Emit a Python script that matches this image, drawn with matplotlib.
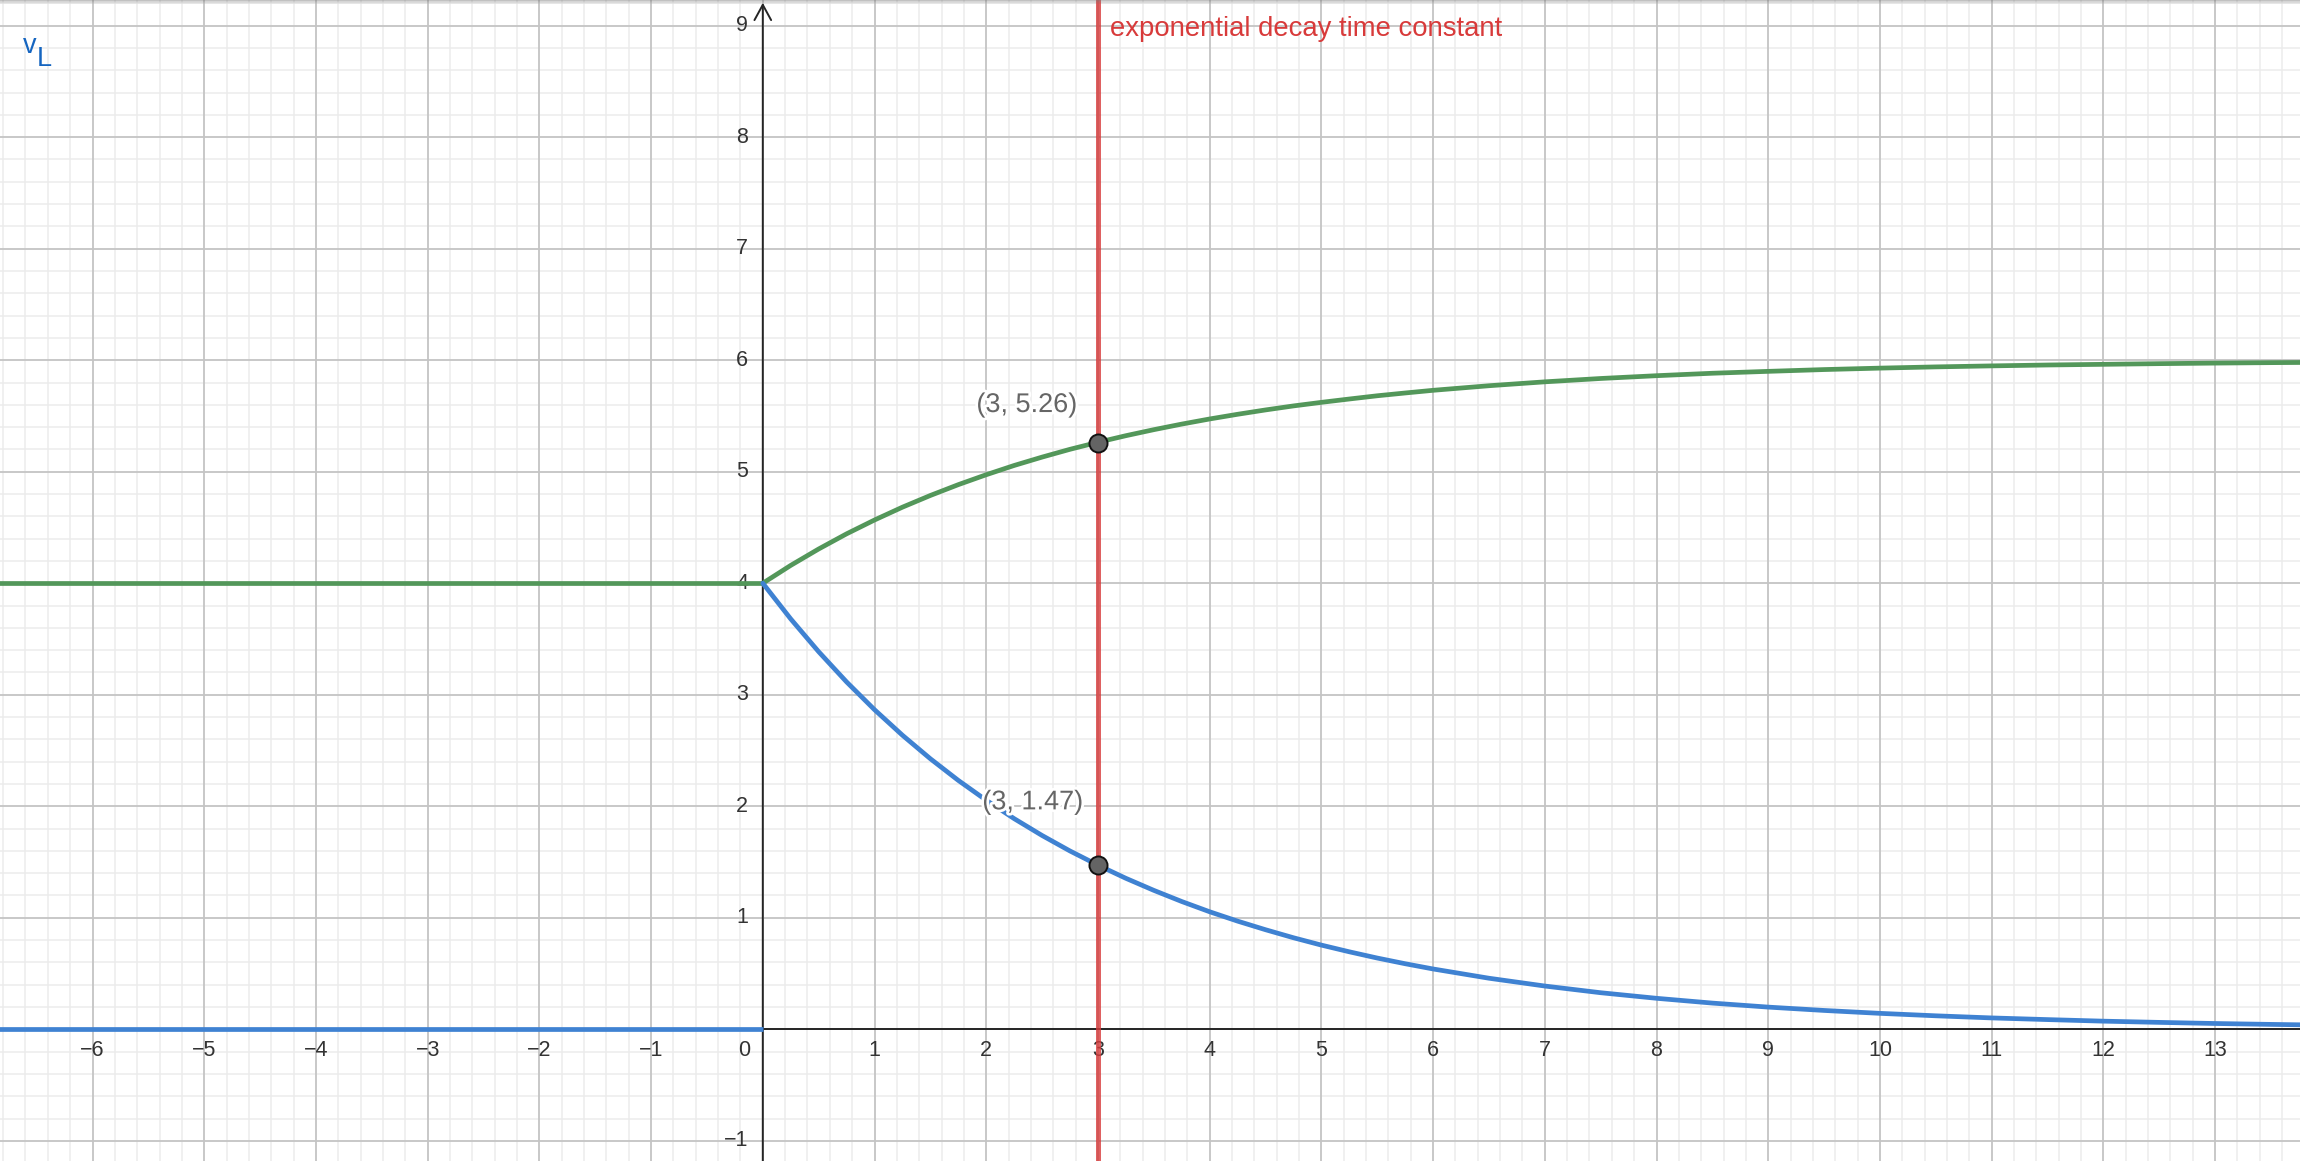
import numpy as np
import matplotlib.pyplot as plt
import matplotlib.patheffects as pe

plt.rcParams['font.family'] = ['Liberation Sans', 'DejaVu Sans']

# values: fine steps where the curves bend most
t_after = [0.0, 0.25, 0.5, 0.75, 1.0, 1.25, 1.5, 1.75, 2.0, 2.25, 2.5, 2.75, 3.0,
           3.25, 3.5, 3.75, 4.0, 4.25, 4.5, 4.75, 5.0, 5.25, 5.5, 5.75, 6.0,
           6.5, 7.0, 7.5, 8.0, 8.5, 9.0, 9.5, 10.0, 10.5, 11.0, 11.5, 12.0, 12.5, 13.0, 13.5, 14.0]
vL_after = [4.000, 3.680, 3.386, 3.115, 2.866, 2.637, 2.426, 2.232, 2.054, 1.889, 1.738, 1.599, 1.472,
            1.354, 1.246, 1.146, 1.054, 0.970, 0.893, 0.821, 0.755, 0.695, 0.639, 0.588, 0.541,
            0.458, 0.388, 0.328, 0.278, 0.235, 0.199, 0.169, 0.143, 0.121, 0.102, 0.087, 0.073,
            0.062, 0.052, 0.044, 0.037]
vG_after = [4.000, 4.160, 4.307, 4.443, 4.567, 4.682, 4.787, 4.884, 4.973, 5.056, 5.131, 5.201, 5.264,
            5.323, 5.377, 5.427, 5.473, 5.515, 5.554, 5.590, 5.622, 5.652, 5.681, 5.706, 5.730,
            5.771, 5.806, 5.836, 5.861, 5.883, 5.900, 5.916, 5.929, 5.940, 5.949, 5.957, 5.963,
            5.969, 5.974, 5.978, 5.981]
t_before = [-7, 0]
vL_before = [0, 0]
vG_before = [4, 4]

tau = 3
pts_x = [3, 3]
pts_y = [5.26, 1.47]
pts_lbl = ['(3, 5.26)', '(3, 1.47)']

xticks = [-6, -5, -4, -3, -2, -1, 1, 2, 3, 4, 5, 6, 7, 8, 9, 10, 11, 12, 13]
yticks = [-1, 1, 2, 3, 4, 5, 6, 7, 8, 9]

green = '#53975a'
blue = '#3f82d2'
red = '#d83a3a'

xmin, xmax = -6.828, 13.76
ymin, ymax = -1.181, 9.23

fig = plt.figure(figsize=(23, 11.61), dpi=100)
ax = fig.add_axes([0, 0, 1, 1])
ax.set_xlim(xmin, xmax)
ax.set_ylim(ymin, ymax)
ax.axis('off')

# grid
for v in np.arange(-7, 14.01, 0.2):
    major = abs(v - round(v)) < 1e-6
    ax.axvline(v, color='#c4c4c4' if major else '#ececec', lw=1.3 if major else 1.1, zorder=1 if major else 0)
for v in np.arange(-2, 10.01, 0.2):
    major = abs(v - round(v)) < 1e-6
    ax.axhline(v, color='#c4c4c4' if major else '#ececec', lw=1.3 if major else 1.1, zorder=1 if major else 0)

# axes
ax.axhline(0, color='#252525', lw=1.4, zorder=2)
ax.annotate('', xy=(0, ymax - 0.025), xytext=(0, ymin),
            arrowprops=dict(arrowstyle='->,head_length=0.55,head_width=0.3', lw=1.4,
                            color='#252525', mutation_scale=20, shrinkA=0, shrinkB=0),
            zorder=2)

for x in xticks:
    ax.text(x, -0.19, str(x).replace('-', '\u2212'), ha='center', va='center',
            fontsize=15.5, color='#333333', zorder=3)
for y in yticks:
    ax.text(-0.13, y, str(y).replace('-', '\u2212'), ha='right', va='center',
            fontsize=15.5, color='#333333', zorder=3)
ax.text(-0.168, -0.19, '0', ha='center', va='center', fontsize=15.5, color='#333333', zorder=3)

# time constant marker
ax.axvline(tau, color=red, lw=3.6, alpha=0.8, zorder=4)
ax.text(3.109, 8.97, 'exponential decay time constant', color=red, fontsize=19.8,
        ha='left', va='center', zorder=6)

# curves
kw = dict(lw=3.4, zorder=5, solid_joinstyle='round')
ax.plot(t_before, vG_before, color=green, solid_capstyle='butt', **kw)
ax.plot(t_after, vG_after, color=green, solid_capstyle='round', **kw)
ax.plot(t_before, vL_before, color=blue, solid_capstyle='butt', **kw)
ax.plot(t_after, vL_after, color=blue, solid_capstyle='round', **kw)

ax.plot(pts_x, pts_y, 'o', ms=13, mfc='#646464', mec='#111111', mew=1.4, zorder=7, ls='none')
halo = [pe.withStroke(linewidth=4, foreground='white')]
ax.text(1.912, 5.598, pts_lbl[0], fontsize=19.5, color='#666666', ha='left', va='center',
        zorder=8, path_effects=halo)
ax.text(1.965, 2.035, pts_lbl[1], fontsize=19.5, color='#666666', ha='left', va='center',
        zorder=8, path_effects=halo)

# v_L label top left
ax.text(23 / 2300, 1 - 46 / 1161, 'v', transform=ax.transAxes, color='#1565c0',
        fontsize=19.5, ha='left', va='center', zorder=8)
ax.text(37 / 2300, 1 - 59 / 1161, 'L', transform=ax.transAxes, color='#1565c0',
        fontsize=19.5, ha='left', va='center', zorder=8)

# toolbar shadow at the top edge
for i, a in enumerate([0.45, 0.3, 0.18, 0.08]):
    fig.patches.append(plt.Rectangle((0, 1 - (i + 1) / 1161), 1, 1 / 1161,
                                     transform=fig.transFigure, color='#777777',
                                     alpha=a, lw=0, zorder=10))

fig.savefig('out.png', dpi=100)
